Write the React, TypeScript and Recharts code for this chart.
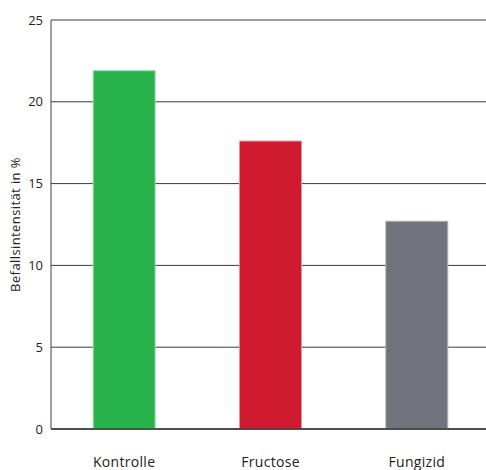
import React from "react";
import { BarChart, Bar, XAxis, YAxis, CartesianGrid, Cell } from "recharts";

const categories = ["Kontrolle", "Fructose", "Fungizid"];
const values = [21.9, 17.6, 12.7];
const colors = ["#27b24b", "#cf1a2f", "#70737b"];
const edgeColors = ["#9fdcae", "#e88f99", "#b4b6bb"];
const yTicks = [0, 5, 10, 15, 20, 25];

const data = categories.map((name, i) => ({ name, value: values[i] }));

const font = "'Open Sans', sans-serif";

export default function App() {
  return (
    <div style={{ position: "absolute", left: 0, top: 0 }}>
      <BarChart
        width={486}
        height={470}
        data={data}
        margin={{ top: 20, right: -4, bottom: 8, left: 0 }}
        barCategoryGap="28.8%"
      >
        <CartesianGrid vertical={false} stroke="#3a3a3a" strokeWidth={1} />
        <XAxis
          dataKey="name"
          tickLine={false}
          axisLine={{ stroke: "#333", strokeWidth: 1.5 }}
          tickMargin={22}
          height={33}
          tick={{ fill: "#222", fontSize: 14, fontFamily: font, letterSpacing: 0.3 }}
        />
        <YAxis
          width={51}
          domain={[0, 25]}
          ticks={yTicks}
          tickLine={false}
          axisLine={{ stroke: "#444", strokeWidth: 1 }}
          tick={{ fill: "#222", fontSize: 13, fontFamily: font }}
          label={{
            value: "Befallsintensität in %",
            angle: -90,
            position: "insideLeft",
            dx: 10,
            style: { textAnchor: "middle", fill: "#222", fontSize: 13, fontFamily: font, letterSpacing: 0.4 },
          }}
        />
        <Bar dataKey="value" isAnimationActive={false} strokeWidth={1}>
          {data.map((d, i) => (
            <Cell key={d.name} fill={colors[i]} stroke={edgeColors[i]} />
          ))}
        </Bar>
      </BarChart>
    </div>
  );
}
